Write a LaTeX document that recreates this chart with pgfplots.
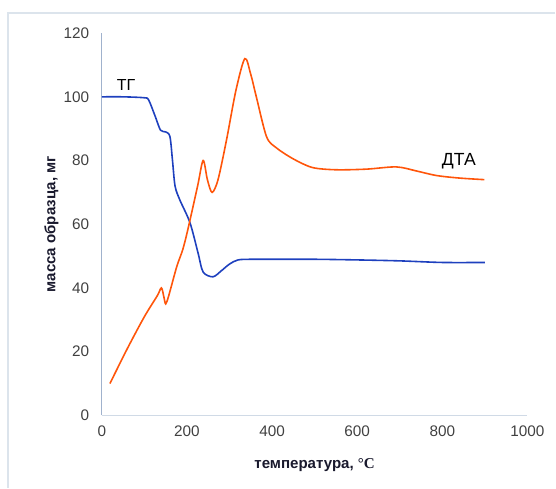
\documentclass[border=0pt]{standalone}
\usepackage{pgfplots}
\pgfplotsset{compat=1.18}
\usepackage{fontspec}
\setmainfont{Liberation Sans}
\newfontfamily\seriffont{Liberation Serif}
\definecolor{tgblue}{RGB}{30,64,190}
\definecolor{dtaorange}{RGB}{255,85,10}
\definecolor{axgrey}{RGB}{160,178,205}
\definecolor{frame}{RGB}{220,228,236}
\definecolor{labcol}{RGB}{25,25,45}
\begin{document}
\begin{tikzpicture}
\begin{axis}[
  scale only axis,
  width=319.5pt, height=287pt,
  xmin=0, xmax=1000, ymin=0, ymax=120,
  axis lines*=left,
  axis line style={axgrey, line width=0.8pt, -},
  x axis line style={draw=frame!80!axgrey},
  xtick={0,200,...,1000}, ytick={0,20,...,120},
  major tick length=0pt,
  tick label style={font=\fontsize{11.5}{13}\selectfont, text=black!75},
  /pgf/number format/assume math mode=true,
  /pgf/number format/1000 sep={},
  xticklabel style={yshift=-4pt},
  yticklabel style={xshift=-6pt},
  xlabel={\fontsize{11.3}{13}\selectfont\bfseries температура, {\seriffont °C}},
  ylabel={\fontsize{11.3}{13}\selectfont\bfseries масса образца, мг},
  label style={text=labcol},
  xlabel style={at={(axis description cs:0.5,0)}, anchor=north, yshift=-29pt},
  ylabel style={at={(axis description cs:0,0.5)}, anchor=south, yshift=29pt},
  clip=false,
  every axis plot/.append style={line width=1.2pt, smooth, tension=0.5},
]
\addplot[tgblue] coordinates {
(0,100) (50,100) (100,99.7) (110,99) (125,94) (138,89.5) (150,89) (160,87.5)
(166,80) (172,72) (183,67.7) (207,60.5) (226,51) (238,45) (261,43.5)
(280,45.3) (300,47.5) (320,48.8) (350,49) (400,49) (500,49) (600,48.8)
(700,48.5) (800,48) (900,48)};
\addplot[dtaorange] coordinates {
(19,10) (60,21) (100,31) (130,37.5) (140,40) (146,37) (150,35) (157,37.5)
(176,46.7) (190,52) (202,58.3) (225,72) (238,80) (248,74) (259,70) (273,74)
(293,86.5) (315,102) (336,112) (350,107) (363,100) (387,87.5) (410,84)
(450,80.5) (495,77.8) (551,77.1) (622,77.3) (692,78) (740,76.7) (786,75.3) (840,74.5) (899,74)};
\node[anchor=base, font=\fontsize{12}{14}\selectfont] at (axis cs:57,102) {ТГ};
\node[anchor=base, font=\fontsize{13.2}{15}\selectfont] at (axis cs:839,78.5) {ДТА};
\coordinate (bl) at (axis cs:-239.4,-22.9);
\coordinate (tr) at (axis cs:1065.7,130.4);
\coordinate (fr) at (axis cs:-220.6,126.3);
\end{axis}
\draw[frame, line width=1pt] (fr -| tr) -- (fr) -- (fr |- bl);
\useasboundingbox (bl) rectangle (tr);
\end{tikzpicture}
\end{document}
